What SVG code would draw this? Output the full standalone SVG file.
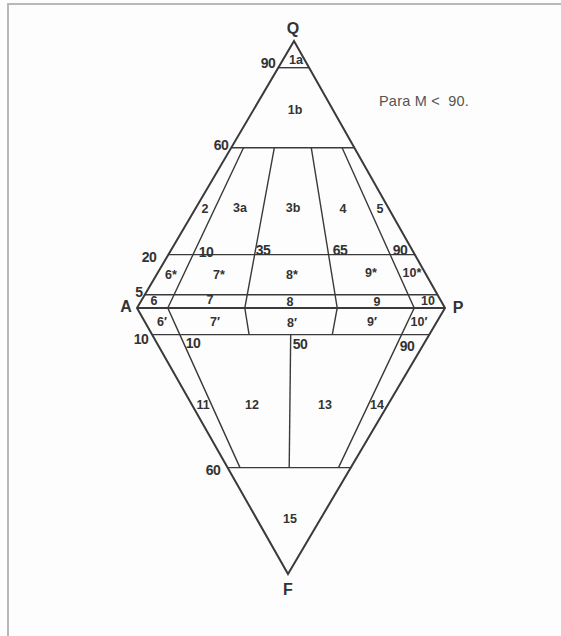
<svg xmlns="http://www.w3.org/2000/svg" width="561" height="636" viewBox="0 0 561 636">
<style>
.frame{fill:none;stroke:#b8b8b8;stroke-width:2}
.outer{fill:none;stroke:#3a3a3a;stroke-width:2;stroke-linejoin:miter}
.ln{fill:none;stroke:#3a3a3a;stroke-width:1.4}
text{font-family:"Liberation Sans",Arial,sans-serif;fill:#333;text-anchor:middle}
.v{font-size:16px;font-weight:bold}
.t{font-size:14px;font-weight:bold;letter-spacing:-0.5px}
.r{font-size:12.5px;font-weight:bold}
.note{font-size:14.5px;fill:#555;text-anchor:start;letter-spacing:0.2px;white-space:pre}
</style>
<rect width="561" height="636" fill="#fdfdfd"/>
<polyline class="frame" points="8,636 8,4 561,4"/>
<g id="connectors">
<polygon class="outer" points="294,41 137,308 288,574 445,308"/>
<line class="outer" x1="137" y1="308" x2="445" y2="308"/>
<line class="ln" x1="278.3" y1="67.7" x2="309.1" y2="67.7"/>
<line class="ln" x1="231.2" y1="147.8" x2="354.4" y2="147.8"/>
<line class="ln" x1="168.4" y1="254.6" x2="414.8" y2="254.6"/>
<line class="ln" x1="144.9" y1="294.7" x2="437.5" y2="294.7"/>
<line class="ln" x1="152.1" y1="334.6" x2="429.3" y2="334.6"/>
<line class="ln" x1="227.6" y1="467.6" x2="350.8" y2="467.6"/>
<polyline class="ln" points="243.5,147.8 167.8,308 179.8,334.6 240,467.6"/>
<polyline class="ln" points="274.3,147.8 244.8,308 249.1,334.6"/>
<polyline class="ln" points="311.3,147.8 337.2,308 332.3,334.6"/>
<polyline class="ln" points="342.1,147.8 414.2,308 401.6,334.6 338.5,467.6"/>
<line class="ln" x1="290.7" y1="334.6" x2="289.2" y2="467.6"/>
</g>
<g id="vertices">
<text class="v" x="293" y="34">Q</text>
<text class="v" x="126" y="312">A</text>
<text class="v" x="458" y="313">P</text>
<text class="v" x="288" y="595">F</text>
</g>
<g id="ticks">
<text class="t" x="268" y="68">90</text>
<text class="t" x="221" y="150">60</text>
<text class="t" x="149" y="262">20</text>
<text class="t" x="206" y="257">10</text>
<text class="t" x="263" y="255">35</text>
<text class="t" x="340" y="255">65</text>
<text class="t" x="400" y="255">90</text>
<text class="t" x="139" y="297">5</text>
<text class="t" x="141" y="344">10</text>
<text class="t" x="193" y="348">10</text>
<text class="t" x="300" y="349">50</text>
<text class="t" x="407" y="351">90</text>
<text class="t" x="213" y="475">60</text>
</g>
<g id="fields">
<text class="r" x="296" y="64">1a</text>
<text class="r" x="295" y="114">1b</text>
<text class="r" x="205" y="213">2</text>
<text class="r" x="240" y="212">3a</text>
<text class="r" x="293" y="212">3b</text>
<text class="r" x="343" y="213">4</text>
<text class="r" x="380" y="213">5</text>
<text class="r" x="171" y="279">6*</text>
<text class="r" x="219" y="279">7*</text>
<text class="r" x="292" y="279">8*</text>
<text class="r" x="371" y="277">9*</text>
<text class="r" x="412" y="277">10*</text>
<text class="r" x="154" y="305">6</text>
<text class="r" x="210" y="304">7</text>
<text class="r" x="290" y="306">8</text>
<text class="r" x="377" y="306">9</text>
<text class="r" x="428" y="305">10</text>
<text class="r" x="162" y="326">6′</text>
<text class="r" x="215" y="326">7′</text>
<text class="r" x="292" y="327">8′</text>
<text class="r" x="372" y="326">9′</text>
<text class="r" x="419" y="326">10′</text>
<text class="r" x="203" y="409">11</text>
<text class="r" x="252" y="409">12</text>
<text class="r" x="325" y="409">13</text>
<text class="r" x="377" y="409">14</text>
<text class="r" x="290" y="523">15</text>
</g>
<text class="note" x="379" y="106" xml:space="preserve">Para M &lt;  90.</text>
</svg>
